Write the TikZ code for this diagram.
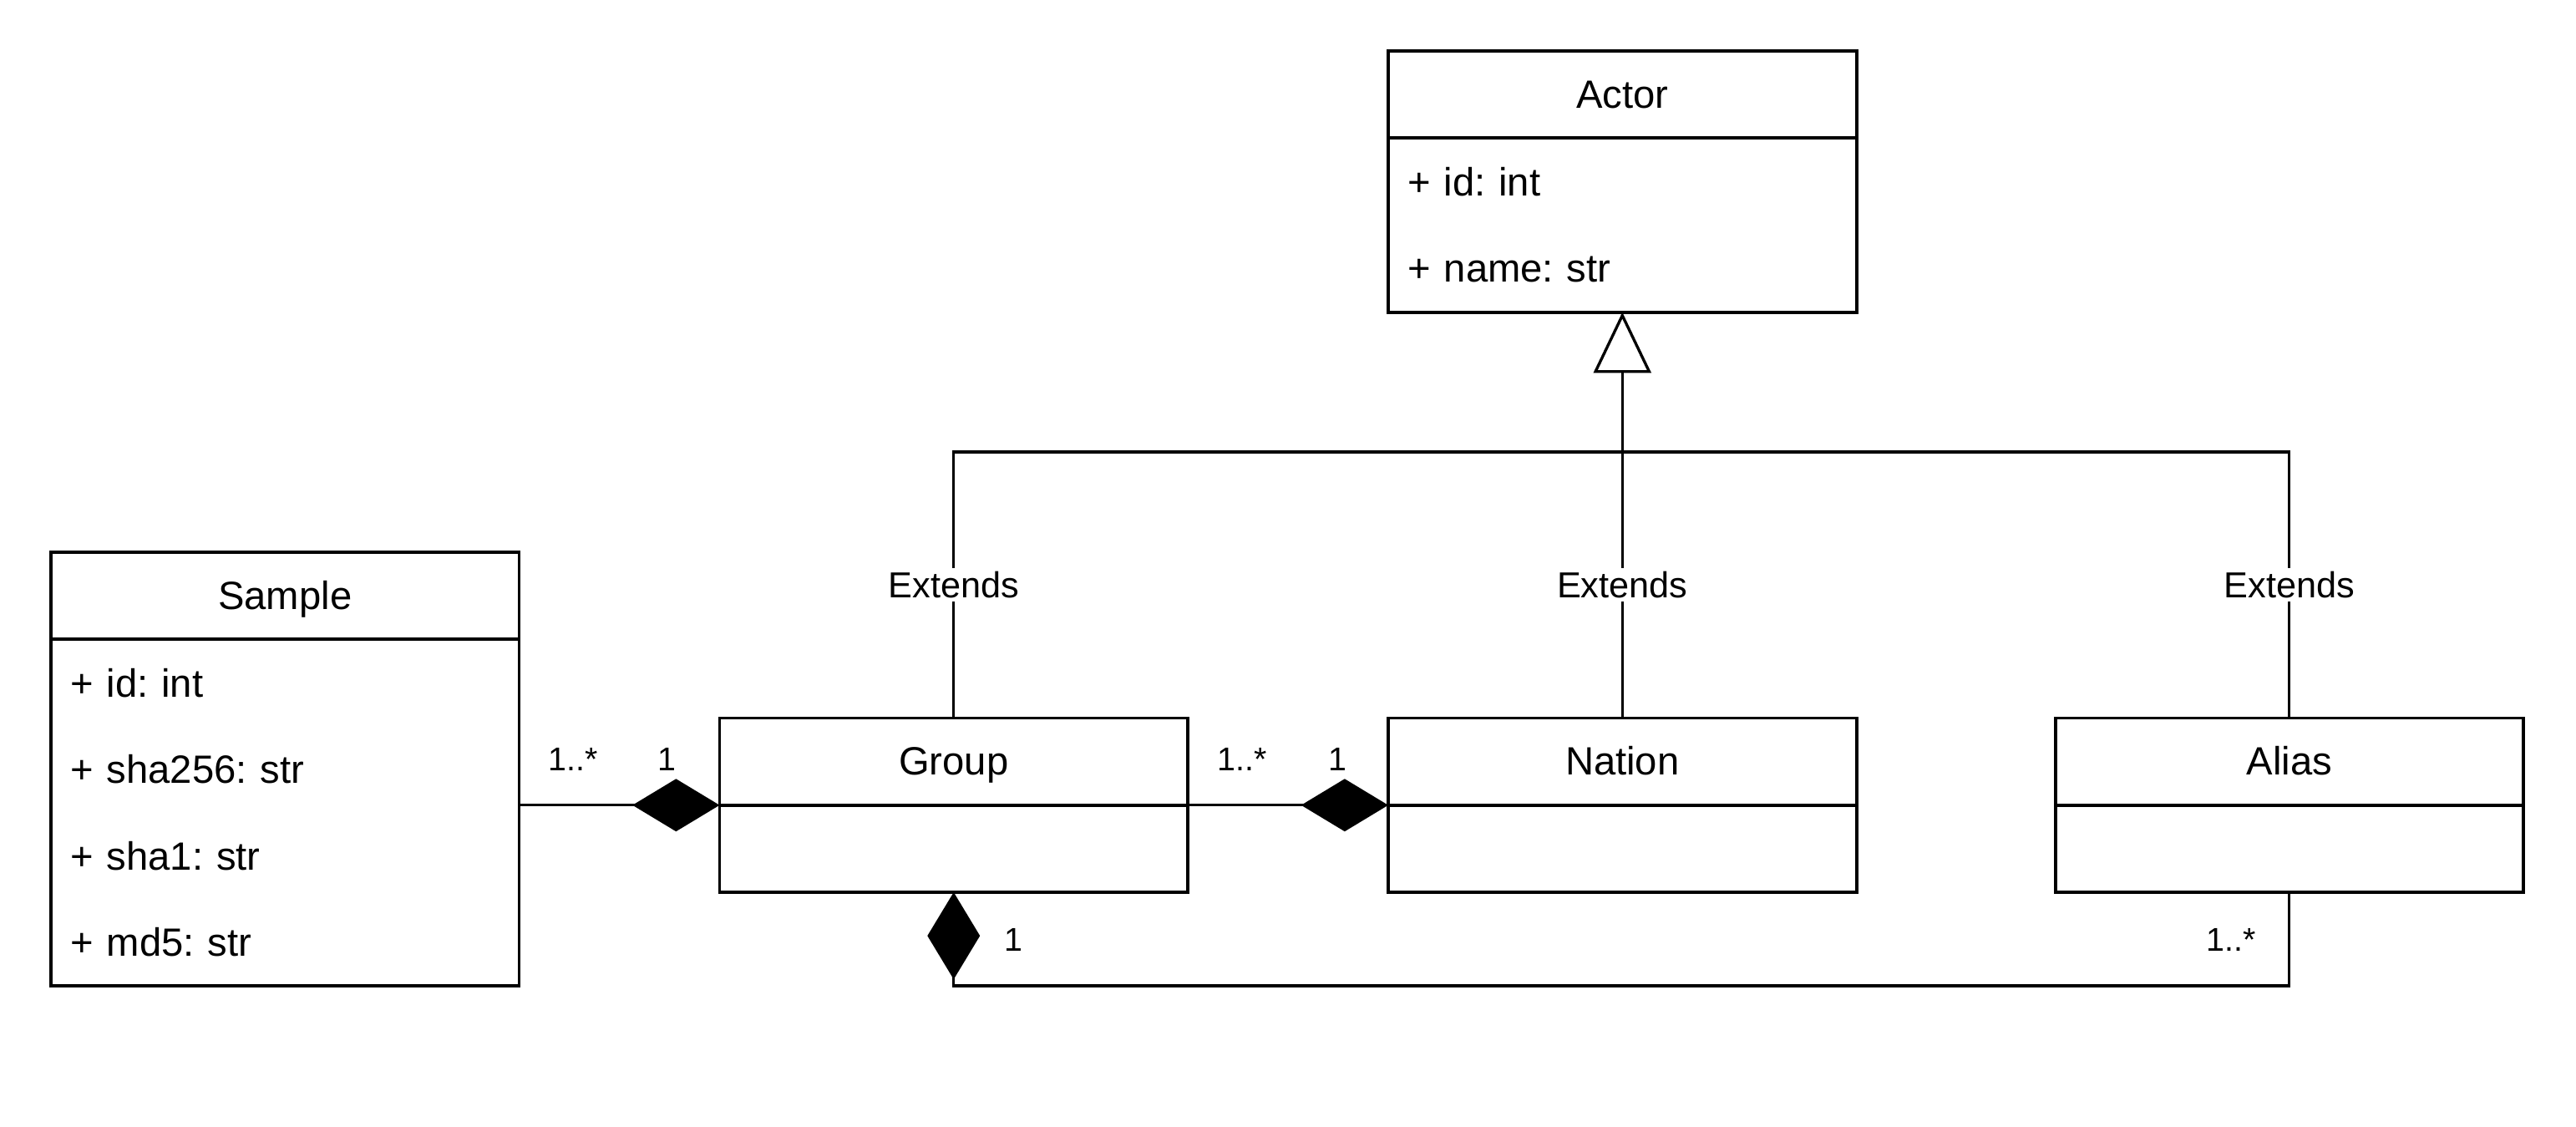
\documentclass[tikz,border=0pt]{standalone}
\usepackage{fontspec}
\setmainfont{Liberation Sans}
\usetikzlibrary{arrows.meta}
\frenchspacing

\begin{document}
\begin{tikzpicture}[x=1pt, y=-1pt,
  classhead/.style={draw, line width=2pt, minimum width=285pt, minimum height=53pt, inner sep=0pt, outer sep=0pt,
    font=\fontsize{24}{29}\selectfont, text height=21.7pt, text depth=5.1pt},
  classbody/.style={draw, line width=2pt, minimum width=285pt, inner xsep=12pt, inner ysep=0pt, outer sep=0pt,
    text width=261pt, align=left, anchor=north, font=\fontsize{24}{52.5}\selectfont},
  link/.style={line width=1.7pt},
  extends/.style={link, -{Triangle[open, length=37pt, width=35pt]}},
  compose/.style={link, -{Diamond[length=53pt, width=32pt]}},
  extlabel/.style={fill=white, inner sep=2pt, font=\fontsize{22}{26}\selectfont},
  mult/.style={inner sep=0pt, font=\fontsize{20}{24}\selectfont}]

\useasboundingbox (0,0) rectangle (1568,685.4);

% classes
\node[classhead] (actor) at (987.5,57.5) {Actor};
\node[classbody, minimum height=106pt] (actorbody) at (actor.south) {+ id: int\\+ name: str};

\node[classhead] (sample) at (173.5,362.5) {Sample};
\node[classbody, minimum height=211pt] (samplebody) at (sample.south) {+ id: int\\+ sha256: str\\+ sha1: str\\+ md5: str};

\node[classhead] (group) at (580.5,463.5) {Group};
\node[classbody, minimum height=53pt] (groupbody) at (group.south) {};

\node[classhead] (nation) at (987.5,463.5) {Nation};
\node[classbody, minimum height=53pt] (nationbody) at (nation.south) {};

\node[classhead] (alias) at (1393.5,463.5) {Alias};
\node[classbody, minimum height=53pt] (aliasbody) at (alias.south) {};

% generalisation
\coordinate (hub) at (987.5,275);
\draw[link] (group.north) |- node[extlabel, pos=0.25] {Extends} (hub);
\draw[link] (nation.north) -- node[extlabel] {Extends} (hub);
\draw[link] (alias.north) |- node[extlabel, pos=0.25] {Extends} (hub);
\draw[extends] (hub) -- (actorbody.south);

% composition
\draw[compose] (samplebody.east |- group.south) -- (group.south west);
\draw[compose] (group.south east) -- (nation.south west);
\draw[compose] (aliasbody.south) -- ++(0,57) -| (groupbody.south);

\node[mult] (m1) at (349,462) {1..*};
\node[mult] (m2) at (406,462) {1};
\node[mult] (m3) at (756,462) {1..*};
\node[mult] (m4) at (814,462) {1};
\node[mult] (m5) at (617,572) {1};
\node[mult] (m6) at (1358,572) {1..*};
\end{tikzpicture}
\end{document}
